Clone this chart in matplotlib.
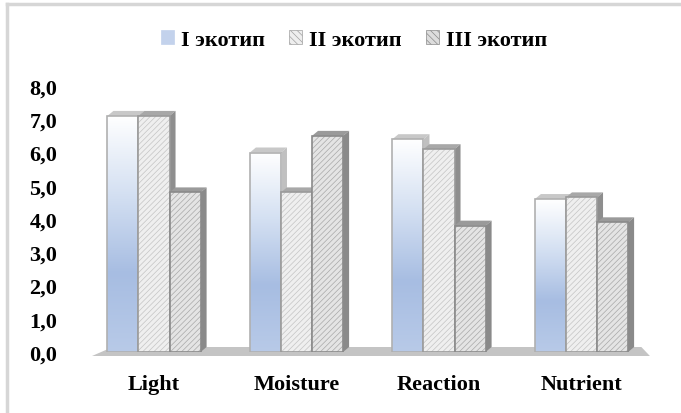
import numpy as np
import matplotlib
matplotlib.use("Agg")
import matplotlib.pyplot as plt
from matplotlib.patches import Polygon, Patch
from matplotlib.colors import LinearSegmentedColormap
from matplotlib.ticker import FuncFormatter
from matplotlib.lines import Line2D

plt.rcParams['font.family'] = ['Liberation Serif', 'DejaVu Serif']
plt.rcParams['font.weight'] = 'bold'
plt.rcParams['hatch.linewidth'] = 0.5

# Data
categories = ['Light', 'Moisture', 'Reaction', 'Nutrient']
series_names = ['I экотип', 'II экотип', 'III экотип']
ecotype_1 = [7.1, 6.0, 6.4, 4.6]
ecotype_2 = [7.1, 4.8, 6.1, 4.65]
ecotype_3 = [4.8, 6.5, 3.8, 3.9]
y_ticks = [0, 1, 2, 3, 4, 5, 6, 7, 8]

W, H = 681, 414
fig = plt.figure(figsize=(W / 100, H / 100), dpi=100)

# axes placed in pixel terms: category 0 at x=154, 142.5 px per category
px_per_cat = 142.5
ax_left, ax_right = 85, 670
ax_bottom, ax_top = 353, 87
ax = fig.add_axes([ax_left / W, (H - ax_bottom) / H,
                   (ax_right - ax_left) / W, (ax_bottom - ax_top) / H])
ax.set_xlim((ax_left - 154) / px_per_cat, (ax_right - 154) / px_per_cat)
ax.set_ylim(0, 8)

x = np.arange(len(categories))
width = 0.218
depth_x = 6 / px_per_cat
depth_y = 5 / 33.25

# floor under the columns
floor = Polygon([(-0.435, -0.12), (-0.29, 0.15), (3.42, 0.15), (3.48, -0.12)],
                closed=True, facecolor='#c4c4c4', edgecolor='none',
                clip_on=False, zorder=0)
ax.add_patch(floor)

blue_cmap = LinearSegmentedColormap.from_list(
    'blue_fade', ['#b8cae8', '#a7bde2', '#d4e0f2', '#ffffff'])

styles = [
    dict(face='#ffffff', hatch=None, hatch_col=None, edge='#b0b0b0',
         top='#c8c8c8', side='#c0c0c0'),
    dict(face='#efefef', hatch='//////', hatch_col='#c4c4c4', edge='#9a9a9a',
         top='#a8a8a8', side='#8e8e8e'),
    dict(face='#e4e4e4', hatch='//////', hatch_col='#a8a8a8', edge='#8a8a8a',
         top='#9a9a9a', side='#8a8a8a'),
]

all_values = [ecotype_1, ecotype_2, ecotype_3]
z = 1
for s, (vals, st) in enumerate(zip(all_values, styles)):
    offs = (s - 1) * width
    for xi, v in zip(x, vals):
        x0 = xi + offs - width / 2
        x1 = x0 + width
        # top and side faces for the 3D look
        ax.add_patch(Polygon([(x0, v), (x0 + depth_x, v + depth_y),
                              (x1 + depth_x, v + depth_y), (x1, v)],
                             facecolor=st['top'], edgecolor='none', zorder=z))
        ax.add_patch(Polygon([(x1, 0), (x1, v), (x1 + depth_x, v + depth_y),
                              (x1 + depth_x, depth_y)],
                             facecolor=st['side'], edgecolor='none', zorder=z))
        z += 1
        bar = ax.bar(xi + offs, v, width, color=st['face'], edgecolor='none',
                     zorder=z)[0]
        if s == 0:
            grad = np.linspace(0, 1, 256).reshape(-1, 1)
            im = ax.imshow(grad, extent=(x0, x1, 0, v), origin='lower',
                           aspect='auto', cmap=blue_cmap, zorder=z + 0.1)
            im.set_clip_path(bar)
        else:
            ax.bar(xi + offs, v, width, color='none', edgecolor=st['hatch_col'],
                   hatch=st['hatch'], linewidth=0, zorder=z + 0.1)
        ax.bar(xi + offs, v, width, color='none', edgecolor=st['edge'],
               linewidth=1.2, zorder=z + 0.2)
        z += 1

ax.set_xticks(x)
ax.set_xticklabels(categories, fontsize=16, fontweight='bold')
ax.set_yticks(y_ticks)
ax.yaxis.set_major_formatter(FuncFormatter(lambda v, p: f"{v:.1f}".replace('.', ',')))
for lab in ax.get_yticklabels():
    lab.set_fontsize(16)
    lab.set_fontweight('bold')
ax.tick_params(axis='x', length=0, pad=16)
ax.tick_params(axis='y', length=0, pad=20)
for sp in ax.spines.values():
    sp.set_visible(False)
ax.patch.set_alpha(0)

# legend on top
handles = [
    Patch(facecolor='#c3d2ec', edgecolor='#c3d2ec', linewidth=0.5),
    Patch(facecolor='#eeeeee', edgecolor='#a0a0a0', hatch='\\\\\\\\\\', linewidth=0.5),
    Patch(facecolor='#dddddd', edgecolor='#8a8a8a', hatch='\\\\\\\\\\', linewidth=0.5),
]
fig.legend(handles, series_names, loc='center', bbox_to_anchor=(354 / W, 1 - 41 / H),
           ncol=3, frameon=False, prop=dict(size=16, weight='bold'),
           handlelength=0.6, handleheight=0.6, handletextpad=0.3, columnspacing=1.1)

# light frame around the chart area
fig.add_artist(Line2D([7 / W, 1], [1 - 5 / H, 1 - 5 / H], color='#d6d6d6', lw=2.5,
                      transform=fig.transFigure))
fig.add_artist(Line2D([7 / W, 7 / W], [0, 1 - 5 / H], color='#d6d6d6', lw=2.5,
                      transform=fig.transFigure))

fig.savefig('out.png', dpi=100)
